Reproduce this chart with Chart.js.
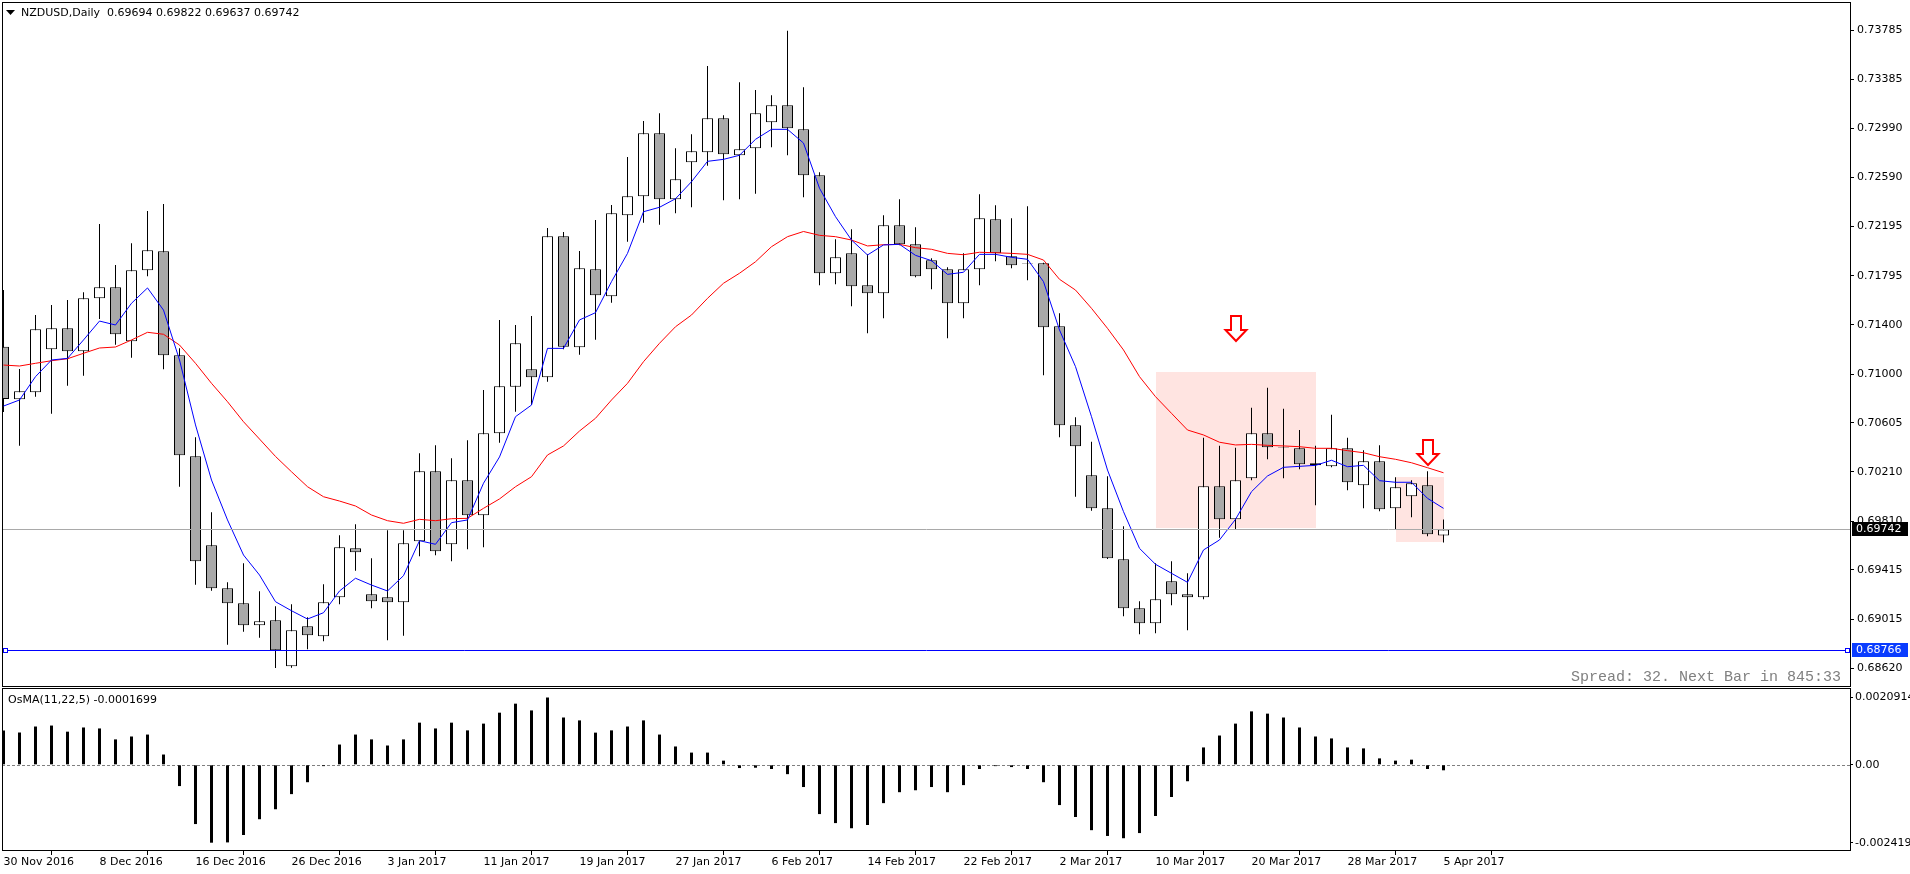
<!DOCTYPE html>
<html>
<head>
<meta charset="utf-8">
<script src="https://cdn.jsdelivr.net/npm/chart.js@4.4.0/dist/chart.umd.min.js"></script>
<style>
html, body { margin: 0; padding: 0; background: #fff; overflow: hidden; }
#main { position: absolute; left: 0; top: 0; }
#osc { position: absolute; left: 0; top: 688px; }
</style>
</head>
<body>
<canvas id="main" width="1910" height="688"></canvas>
<canvas id="osc" width="1910" height="186"></canvas>
<script>
'use strict';
const symbol = 'NZDUSD';
const period = 'Daily';

const dates = ['30 Nov 2016','1 Dec 2016','2 Dec 2016','5 Dec 2016','6 Dec 2016','7 Dec 2016','8 Dec 2016','9 Dec 2016','12 Dec 2016','13 Dec 2016',
  '14 Dec 2016','15 Dec 2016','16 Dec 2016','19 Dec 2016','20 Dec 2016','21 Dec 2016','22 Dec 2016','23 Dec 2016','26 Dec 2016','27 Dec 2016',
  '28 Dec 2016','29 Dec 2016','30 Dec 2016','2 Jan 2017','3 Jan 2017','4 Jan 2017','5 Jan 2017','6 Jan 2017','9 Jan 2017','10 Jan 2017',
  '11 Jan 2017','12 Jan 2017','13 Jan 2017','16 Jan 2017','17 Jan 2017','18 Jan 2017','19 Jan 2017','20 Jan 2017','23 Jan 2017','24 Jan 2017',
  '25 Jan 2017','26 Jan 2017','27 Jan 2017','30 Jan 2017','31 Jan 2017','1 Feb 2017','2 Feb 2017','3 Feb 2017','6 Feb 2017','7 Feb 2017',
  '8 Feb 2017','9 Feb 2017','10 Feb 2017','13 Feb 2017','14 Feb 2017','15 Feb 2017','16 Feb 2017','17 Feb 2017','20 Feb 2017','21 Feb 2017',
  '22 Feb 2017','23 Feb 2017','24 Feb 2017','27 Feb 2017','28 Feb 2017','1 Mar 2017','2 Mar 2017','3 Mar 2017','6 Mar 2017','7 Mar 2017',
  '8 Mar 2017','9 Mar 2017','10 Mar 2017','13 Mar 2017','14 Mar 2017','15 Mar 2017','16 Mar 2017','17 Mar 2017','20 Mar 2017','21 Mar 2017',
  '22 Mar 2017','23 Mar 2017','24 Mar 2017','27 Mar 2017','28 Mar 2017','29 Mar 2017','30 Mar 2017','31 Mar 2017','3 Apr 2017','4 Apr 2017',
  '5 Apr 2017'];

const open = [0.71221,0.70796,0.70852,0.71200,0.71370,0.71184,0.71613,0.71702,0.71265,0.71840,
  0.71994,0.71152,0.70334,0.69614,0.69266,0.69144,0.68966,0.69007,0.68634,0.68958,
  0.68877,0.69193,0.69589,0.69217,0.69193,0.69152,0.69646,0.70213,0.69622,0.70140,
  0.69857,0.70520,0.70898,0.71038,0.70974,0.72115,0.71217,0.71848,0.71630,0.72285,
  0.72439,0.72949,0.72415,0.72714,0.72795,0.73070,0.72771,0.72827,0.73038,0.73176,
  0.72981,0.72609,0.71816,0.71977,0.71718,0.71654,0.72204,0.72050,0.71921,0.71848,
  0.71573,0.71848,0.72253,0.71953,0.71895,0.71897,0.71387,0.70585,0.70180,0.69913,
  0.69500,0.69104,0.68982,0.69322,0.69217,0.69193,0.70091,0.69824,0.70156,0.70520,
  0.70406,0.70399,0.70278,0.70253,0.70399,0.70099,0.70294,0.69913,0.70010,0.70099,
  0.69694];
const high = [0.71680,0.71041,0.71478,0.71559,0.71600,0.71662,0.72215,0.71883,0.72058,0.72320,
  0.72377,0.71208,0.70488,0.69881,0.69314,0.69468,0.69241,0.69120,0.69136,0.69031,
  0.69298,0.69695,0.69784,0.69509,0.69735,0.69735,0.70358,0.70423,0.70318,0.70464,
  0.70871,0.71438,0.71397,0.71470,0.72182,0.72150,0.71996,0.72247,0.72369,0.72757,
  0.73048,0.73111,0.72827,0.72941,0.73494,0.73095,0.73362,0.73299,0.73256,0.73780,
  0.73321,0.72633,0.72091,0.72172,0.71969,0.72285,0.72415,0.72188,0.71937,0.71864,
  0.71977,0.72455,0.72366,0.72261,0.72358,0.71901,0.71492,0.70650,0.70452,0.70172,
  0.69768,0.69160,0.69468,0.69484,0.69387,0.70485,0.70420,0.70404,0.70728,0.70890,
  0.70720,0.70547,0.70420,0.70671,0.70485,0.70383,0.70423,0.70164,0.70140,0.70213,
  0.69822];
const low = [0.70693,0.70420,0.70817,0.70679,0.70906,0.70987,0.71446,0.71238,0.71132,0.71791,
  0.71038,0.70088,0.69295,0.69246,0.68809,0.68914,0.68866,0.68620,0.68623,0.68772,
  0.68837,0.69136,0.69408,0.69104,0.68845,0.68882,0.69525,0.69533,0.69484,0.69581,
  0.69598,0.70444,0.70695,0.70749,0.70938,0.71200,0.71157,0.71278,0.71578,0.72071,
  0.72225,0.72209,0.72301,0.72350,0.72687,0.72407,0.72415,0.72460,0.72836,0.72771,
  0.72431,0.71718,0.71727,0.71548,0.71330,0.71451,0.72042,0.71783,0.71686,0.71289,
  0.71451,0.71718,0.71913,0.71856,0.71759,0.70990,0.70488,0.70007,0.69894,0.69503,
  0.69039,0.68893,0.68901,0.69128,0.68926,0.69177,0.69675,0.69743,0.70140,0.70310,
  0.70156,0.70229,0.69938,0.70245,0.70059,0.69913,0.69889,0.69743,0.69840,0.69687,
  0.69637];
const close = [0.70798,0.70860,0.71362,0.71370,0.71184,0.71613,0.71702,0.71322,0.71840,0.72002,
  0.71152,0.70342,0.69484,0.69266,0.69144,0.68966,0.68999,0.68764,0.68926,0.68885,
  0.69152,0.69598,0.69557,0.69160,0.69152,0.69630,0.70213,0.69565,0.70140,0.69857,
  0.70520,0.70901,0.71249,0.70974,0.72115,0.71221,0.71856,0.71638,0.72301,0.72439,
  0.72949,0.72415,0.72577,0.72803,0.73070,0.72779,0.72819,0.73111,0.73176,0.72989,
  0.72609,0.71816,0.71945,0.71710,0.71654,0.72204,0.72050,0.71791,0.71848,0.71573,
  0.71848,0.72261,0.71977,0.71880,0.71891,0.71378,0.70585,0.70415,0.69913,0.69509,
  0.69104,0.68982,0.69177,0.69217,0.69193,0.70091,0.69824,0.70140,0.70520,0.70407,
  0.70402,0.70269,0.70261,0.70399,0.70124,0.70294,0.69905,0.70083,0.70116,0.69703,
  0.69742];

// blue (fast) and red (slow) moving averages
const maFast = [0.70741,0.70790,0.70979,0.71114,0.71127,0.71276,0.71429,0.71397,0.71573,0.71697,
  0.71518,0.71114,0.70588,0.70142,0.69819,0.69535,0.69373,0.69157,0.69084,0.69017,
  0.69068,0.69244,0.69347,0.69292,0.69244,0.69368,0.69651,0.69622,0.69797,0.69819,
  0.70116,0.70329,0.70655,0.70749,0.71208,0.71208,0.71438,0.71497,0.71748,0.71977,
  0.72314,0.72350,0.72419,0.72557,0.72722,0.72738,0.72771,0.72900,0.72981,0.72981,
  0.72870,0.72504,0.72274,0.72085,0.71964,0.72045,0.72050,0.71961,0.71918,0.71807,
  0.71824,0.71969,0.71969,0.71945,0.71929,0.71748,0.71357,0.71060,0.70655,0.70223,
  0.69886,0.69589,0.69460,0.69387,0.69314,0.69576,0.69657,0.69824,0.70048,0.70175,
  0.70245,0.70253,0.70261,0.70302,0.70250,0.70261,0.70137,0.70124,0.70124,0.69994,
  0.69913];
const maSlow = [0.71073,0.71065,0.71087,0.71108,0.71124,0.71168,0.71211,0.71219,0.71276,0.71338,
  0.71322,0.71235,0.71087,0.70925,0.70776,0.70614,0.70474,0.70333,0.70209,0.70088,
  0.70007,0.69972,0.69932,0.69859,0.69813,0.69792,0.69824,0.69813,0.69829,0.69832,
  0.69913,0.69989,0.70088,0.70169,0.70345,0.70418,0.70539,0.70642,0.70790,0.70925,
  0.71100,0.71249,0.71383,0.71478,0.71613,0.71735,0.71816,0.71909,0.72031,0.72112,
  0.72154,0.72123,0.72112,0.72085,0.72037,0.72047,0.72050,0.72023,0.72010,0.71977,
  0.71966,0.71986,0.71982,0.71977,0.71969,0.71923,0.71767,0.71680,0.71532,0.71370,
  0.71195,0.70979,0.70817,0.70682,0.70547,0.70507,0.70448,0.70426,0.70431,0.70423,
  0.70418,0.70412,0.70399,0.70399,0.70380,0.70363,0.70331,0.70310,0.70282,0.70242,
  0.70201];

const osma = [0.001066,0.001004,0.00119,0.00122,0.00103,0.00116,0.00113,0.00079,0.00088,0.00094,
  0.00032,-0.00066,-0.00184,-0.002419,-0.00241,-0.00218,-0.00169,-0.00138,-0.00091,-0.00054,
  -0.00004,0.00063,0.00094,0.00079,0.0006,0.00079,0.00131,0.00113,0.00131,0.00107,
  0.00128,0.00162,0.0019,0.00169,0.0020914,0.00147,0.00138,0.001,0.00107,0.00119,
  0.00138,0.00094,0.00057,0.00038,0.00038,0.00013,-0.0001,-0.00009,-0.00013,-0.00029,
  -0.00069,-0.00153,-0.00181,-0.00197,-0.00187,-0.00119,-0.00085,-0.00079,-0.00069,-0.00085,
  -0.00063,-0.00013,-0.00004,-0.00007,-0.00013,-0.00054,-0.00125,-0.00162,-0.00203,-0.00221,
  -0.00228,-0.00212,-0.00159,-0.001,-0.00051,0.00054,0.00091,0.00128,0.00166,0.00159,
  0.00147,0.00116,0.00088,0.00082,0.00054,0.00051,0.0002,0.00013,0.00016,-0.00013,
  -0.0001699];

const priceTicks = [0.73785,0.73385,0.72990,0.72590,0.72195,0.71795,0.71400,0.71000,0.70605,0.70210,0.69810,0.69415,0.69015,0.68620];
const osmaTicks = [0.0020914, 0, -0.002419];
const osmaTickLabels = ['0.0020914', '0.00', '-0.002419'];
const dateTickStep = 6;

const supportLevel = 0.68766;
const zoneStart = [72, 87];
const zoneEnd = [82, 90];
const zoneHigh = [0.71019, 0.70167];
const zoneLow = [0.69756, 0.69643];
const arrowBar = [77, 89];
const arrowPrice = [0.71270, 0.70264];

// visible window
const xMin = -0.09375, xMax = 115.46875;
const priceMin = 0.684667, priceMax = 0.740118;
const osmaMin = -0.002677, osmaMax = 0.0023865;

Chart.defaults.font.family = 'DejaVu Sans';
Chart.defaults.font.size = 11;
Chart.defaults.color = '#000';

const last = close.length - 1;
const bidPrice = close[last];
const idx = dates.map((d, i) => i);
const bodyFill = idx.map(i => close[i] >= open[i] ? '#FFFFFF' : '#A9A9A9');
const dateTicks = idx.filter(i => i % dateTickStep === 0);

function noPad(s) {
  s.paddingTop = 0; s.paddingBottom = 0; s.paddingLeft = 0; s.paddingRight = 0;
}

function drawArrow(ctx, cx, ty) {
  ctx.beginPath();
  ctx.moveTo(cx - 5, ty - 25);
  ctx.lineTo(cx + 5, ty - 25);
  ctx.lineTo(cx + 5, ty - 11);
  ctx.lineTo(cx + 10.5, ty - 11);
  ctx.lineTo(cx, ty);
  ctx.lineTo(cx - 10.5, ty - 11);
  ctx.lineTo(cx - 5, ty - 11);
  ctx.closePath();
  ctx.fillStyle = '#fff';
  ctx.fill();
  ctx.strokeStyle = '#FF0000';
  ctx.lineWidth = 2;
  ctx.stroke();
}

function priceTag(ctx, scale, value, bg) {
  const py = Math.round(scale.getPixelForValue(value));
  ctx.fillStyle = bg;
  ctx.fillRect(scale.left + 1, py - 7, 56, 14);
  ctx.fillStyle = '#fff';
  ctx.textAlign = 'left';
  ctx.textBaseline = 'middle';
  ctx.fillText(value.toFixed(5), scale.left + 5, py);
}

const mainOverlay = {
  id: 'mainOverlay',
  beforeDatasetsDraw(chart) {
    const {ctx, scales: {x, y}} = chart;
    ctx.save();
    ctx.fillStyle = '#FFE4E1';
    for (let k = 0; k < zoneStart.length; k++) {
      const l = Math.round(x.getPixelForValue(zoneStart[k]));
      const r = Math.round(x.getPixelForValue(zoneEnd[k]));
      const t = Math.round(y.getPixelForValue(zoneHigh[k]));
      const b = Math.round(y.getPixelForValue(zoneLow[k]));
      ctx.fillRect(l, t, r - l, b - t);
    }
    ctx.restore();
  },
  afterDatasetsDraw(chart) {
    const {ctx, chartArea: a, scales: {x, y}} = chart;
    ctx.save();
    ctx.lineWidth = 1;
    // bid line
    let py = Math.round(y.getPixelForValue(bidPrice)) + 0.5;
    ctx.strokeStyle = '#A9A9A9';
    ctx.beginPath(); ctx.moveTo(a.left, py); ctx.lineTo(a.right, py); ctx.stroke();
    // support line
    py = Math.round(y.getPixelForValue(supportLevel)) + 0.5;
    ctx.strokeStyle = '#0000FF';
    ctx.beginPath(); ctx.moveTo(a.left, py); ctx.lineTo(a.right, py); ctx.stroke();
    ctx.fillStyle = '#fff';
    ctx.fillRect(a.left + 1, py - 2.5, 4, 4);
    ctx.strokeRect(a.left + 1.5, py - 2, 4, 4);
    ctx.fillRect(a.right - 6, py - 2.5, 4, 4);
    ctx.strokeRect(a.right - 5.5, py - 2, 4, 4);
    // arrows
    for (let k = 0; k < arrowBar.length; k++) {
      drawArrow(ctx, Math.round(x.getPixelForValue(arrowBar[k])), Math.round(y.getPixelForValue(arrowPrice[k])));
    }
    ctx.restore();
  },
  afterDraw(chart) {
    const {ctx, chartArea: a, scales: {y}} = chart;
    ctx.save();
    ctx.strokeStyle = '#000';
    ctx.lineWidth = 1;
    ctx.strokeRect(a.left + 0.5, a.top + 0.5, a.right - a.left - 1, a.bottom - a.top - 1);
    // title
    ctx.fillStyle = '#000';
    ctx.beginPath();
    ctx.moveTo(6, 10); ctx.lineTo(15, 10); ctx.lineTo(10.5, 15); ctx.closePath();
    ctx.fill();
    ctx.font = '11px "DejaVu Sans"';
    ctx.textAlign = 'left';
    ctx.textBaseline = 'middle';
    const title = symbol + ',' + period + '  ' + [open[last], high[last], low[last], close[last]].map(v => v.toFixed(5)).join(' ');
    ctx.fillText(title, 21, 13);
    // axis price tags
    priceTag(ctx, y, bidPrice, '#000000');
    priceTag(ctx, y, supportLevel, '#0A3CFF');
    // status text
    ctx.font = '15px "Liberation Mono"';
    ctx.fillStyle = '#808080';
    ctx.textAlign = 'right';
    ctx.fillText('Spread: 32. Next Bar in 845:33', a.right - 10, a.bottom - 10);
    ctx.restore();
  }
};

new Chart(document.getElementById('main'), {
  type: 'bar',
  data: {
    datasets: [
      {
        type: 'line', label: 'MA fast',
        data: idx.map(i => ({x: i, y: maFast[i]})),
        borderColor: '#0000FF', borderWidth: 1, pointRadius: 0, tension: 0, order: 0
      },
      {
        type: 'line', label: 'MA slow',
        data: idx.map(i => ({x: i, y: maSlow[i]})),
        borderColor: '#FF0000', borderWidth: 1, pointRadius: 0, tension: 0, order: 0
      },
      {
        label: 'body',
        data: idx.map(i => ({x: i, y: [open[i], close[i]]})),
        backgroundColor: bodyFill, borderColor: '#000', borderWidth: 1,
        borderSkipped: false, barThickness: 11, grouped: false, inflateAmount: 0, order: 1
      },
      {
        label: 'wick',
        data: idx.map(i => ({x: i, y: [low[i], high[i]]})),
        backgroundColor: '#000', borderWidth: 0,
        barThickness: 1, grouped: false, inflateAmount: 0, order: 2
      }
    ]
  },
  options: {
    responsive: false,
    animation: false,
    events: [],
    layout: {padding: {left: 2, top: 2, right: 0, bottom: 1}},
    plugins: {legend: {display: false}, tooltip: {enabled: false}},
    scales: {
      x: {type: 'linear', min: xMin, max: xMax, offset: false, display: false},
      y: {
        position: 'right', min: priceMin, max: priceMax,
        afterFit(s) { s.width = 59; noPad(s); },
        afterBuildTicks(s) { s.ticks = priceTicks.map(v => ({value: v})); },
        ticks: {callback: v => v.toFixed(5), padding: 3, autoSkip: false},
        grid: {drawOnChartArea: false, tickLength: 3, color: '#000'},
        border: {display: false}
      }
    }
  },
  plugins: [mainOverlay]
});

const oscOverlay = {
  id: 'oscOverlay',
  beforeDatasetsDraw(chart) {
    const {ctx, chartArea: a, scales: {y}} = chart;
    const py = Math.round(y.getPixelForValue(0)) + 0.5;
    ctx.save();
    ctx.strokeStyle = '#808080';
    ctx.lineWidth = 1;
    ctx.setLineDash([3, 2]);
    ctx.beginPath(); ctx.moveTo(a.left, py); ctx.lineTo(a.right, py); ctx.stroke();
    ctx.restore();
  },
  afterDraw(chart) {
    const {ctx, chartArea: a} = chart;
    ctx.save();
    ctx.strokeStyle = '#000';
    ctx.lineWidth = 1;
    ctx.strokeRect(a.left + 0.5, a.top + 0.5, a.right - a.left - 1, a.bottom - a.top - 1);
    ctx.fillStyle = '#000';
    ctx.font = '11px "DejaVu Sans"';
    ctx.textAlign = 'left';
    ctx.textBaseline = 'middle';
    ctx.fillText('OsMA(11,22,5) ' + osma[last].toFixed(7), a.left + 6, a.top + 12);
    ctx.restore();
  }
};

new Chart(document.getElementById('osc'), {
  type: 'bar',
  data: {
    datasets: [{
      label: 'OsMA',
      data: idx.map(i => ({x: i, y: osma[i]})),
      backgroundColor: '#000', borderWidth: 0, barThickness: 3, inflateAmount: 0
    }]
  },
  options: {
    responsive: false,
    animation: false,
    events: [],
    layout: {padding: {left: 2, top: 0, right: 0, bottom: 0}},
    plugins: {legend: {display: false}, tooltip: {enabled: false}},
    scales: {
      x: {
        type: 'linear', min: xMin, max: xMax, offset: false,
        afterFit(s) { s.height = 23; noPad(s); },
        afterBuildTicks(s) { s.ticks = dateTicks.map(v => ({value: v})); },
        ticks: {callback: v => dates[v], align: 'start', maxRotation: 0, autoSkip: false, padding: 1},
        grid: {drawOnChartArea: false, tickLength: 4, color: '#000'},
        border: {display: false}
      },
      y: {
        position: 'right', min: osmaMin, max: osmaMax,
        afterFit(s) { s.width = 59; noPad(s); },
        afterBuildTicks(s) { s.ticks = osmaTicks.map(v => ({value: v})); },
        ticks: {callback: (v, i) => osmaTickLabels[i], padding: 2, autoSkip: false},
        grid: {drawOnChartArea: false, tickLength: 2, color: '#000'},
        border: {display: false}
      }
    }
  },
  plugins: [oscOverlay]
});
</script>
</body>
</html>
